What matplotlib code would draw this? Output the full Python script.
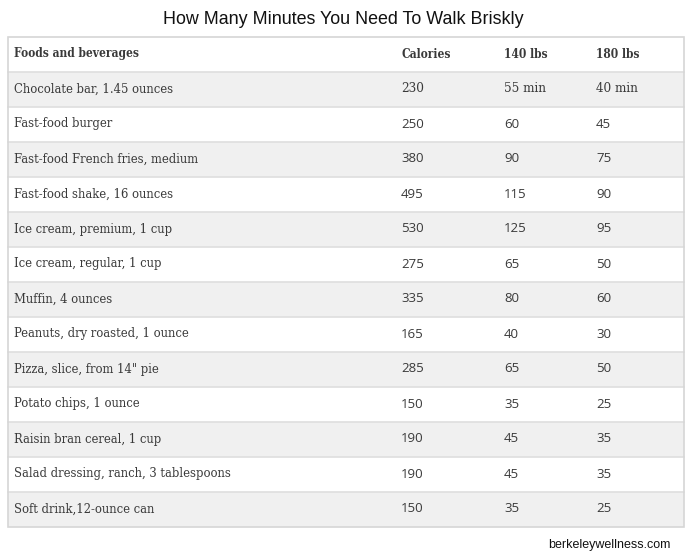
import matplotlib
matplotlib.use('Agg')

import matplotlib.pyplot as plt
from matplotlib.patches import Rectangle

# table contents
title = "How Many Minutes You Need To Walk Briskly"
source = "berkeleywellness.com"
headers = ["Foods and beverages", "Calories", "140 lbs", "180 lbs"]
foods = [
    "Chocolate bar, 1.45 ounces",
    "Fast-food burger",
    "Fast-food French fries, medium",
    "Fast-food shake, 16 ounces",
    "Ice cream, premium, 1 cup",
    "Ice cream, regular, 1 cup",
    "Muffin, 4 ounces",
    "Peanuts, dry roasted, 1 ounce",
    'Pizza, slice, from 14" pie',
    "Potato chips, 1 ounce",
    "Raisin bran cereal, 1 cup",
    "Salad dressing, ranch, 3 tablespoons",
    "Soft drink,12-ounce can",
]
calories = [230, 250, 380, 495, 530, 275, 335, 165, 285, 150, 190, 190, 150]
min_140 = [55, 60, 90, 115, 125, 65, 80, 40, 65, 35, 45, 45, 35]
min_180 = [40, 45, 75, 90, 95, 50, 60, 30, 50, 25, 35, 35, 25]

W, H = 687, 557
fig = plt.figure(figsize=(W / 100, H / 100), dpi=100)
ax = fig.add_axes([0, 0, 1, 1])
ax.set_xlim(0, W)
ax.set_ylim(H, 0)
ax.axis('off')

# geometry in pixels
left, right = 7.5, 683.5
top = 36.5
row_h = 35
col_x = [14, 401, 504, 596]
text_col = '#3a3a3a'
serif = 'DejaVu Serif'
sans = 'Open Sans'

ax.text(W / 2, 19, title, ha='center', va='center', fontsize=12.9,
        family='Liberation Sans', color='#111111')

n = len(foods)
bottom = top + row_h * (n + 1)

# row backgrounds and separators
for i in range(n + 1):
    y0 = top + i * row_h
    fc = '#f0f0f0' if i % 2 == 1 else 'white'
    ax.add_patch(Rectangle((left, y0), right - left, row_h, facecolor=fc,
                           edgecolor='none', zorder=1))
    if i > 0:
        ax.plot([left, right], [y0, y0], color='#dedede', lw=1.2, zorder=2)

ax.add_patch(Rectangle((left, top), right - left, bottom - top, facecolor='none',
                       edgecolor='#d6d6d6', lw=1.2, zorder=3))

# header
yh = top + row_h / 2
for x, h in zip(col_x, headers):
    ax.text(x, yh, h, ha='left', va='center', fontsize=8.6, family=serif,
            stretch='condensed', weight='bold', color=text_col, zorder=4)

# body
for i in range(n):
    yc = top + (i + 1) * row_h + row_h / 2
    ax.text(col_x[0], yc, foods[i], ha='left', va='center', fontsize=9.3,
            family=serif, stretch='condensed', color=text_col, zorder=4)
    if i == 0:
        vals = [str(calories[i]), f"{min_140[i]} min", f"{min_180[i]} min"]
        fam, st, fs = serif, 'condensed', 9.6
    else:
        vals = [str(calories[i]), str(min_140[i]), str(min_180[i])]
        fam, st, fs = sans, 'normal', 9.5
    for x, v in zip(col_x[1:], vals):
        ax.text(x, yc, v, ha='left', va='center', fontsize=fs, family=fam,
                stretch=st, color=text_col, zorder=4)

ax.text(671, 545, source, ha='right', va='center', fontsize=9,
        family='Liberation Sans', color='#111111')

fig.savefig('out.png', dpi=100)
